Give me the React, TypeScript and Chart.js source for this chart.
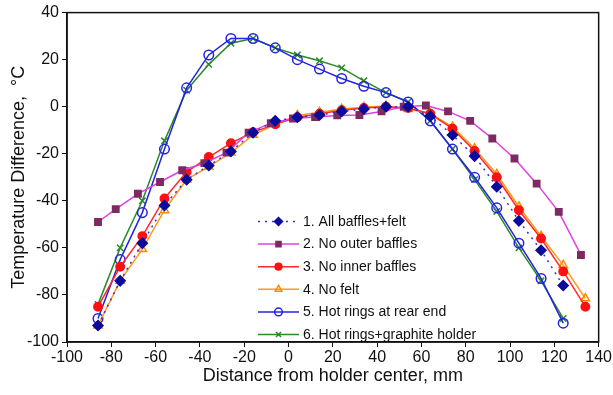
import React, { useEffect, useRef } from "react";
import { Chart, registerables } from "chart.js";
import { drawPoint } from "chart.js/helpers";

Chart.register(...registerables);

const xMain = [-86, -76, -66, -56, -46, -36, -26, -16, -6, 4, 14, 24, 34, 44, 54, 64, 74, 84, 94, 104, 114, 124, 134];
const xOuter = [-86, -78, -68, -58, -48, -38, -28, -18, -8, 2, 12, 22, 32, 42, 52, 62, 72, 82, 92, 102, 112, 122, 132];

const labels = [
  "1. All baffles+felt",
  "2. No outer baffles",
  "3. No inner baffles",
  "4. No felt",
  "5. Hot rings at rear end",
  "6. Hot rings+graphite holder",
];

const s1 = [-93, -74, -58, -42, -31, -25, -19, -11, -6, -4.5, -3.5, -2, -1, 0, 0, -4, -12, -21, -34, -48.5, -61, -76];
const s2 = [-49, -43.5, -37, -32, -27, -24, -19.5, -11, -7, -5, -4.4, -3.7, -3.5, -2, 0, 0.5, -2, -6, -13.5, -22, -32.7, -44.7, -63];
const s3 = [-85, -68, -55, -39, -27.7, -21.4, -15.5, -10.8, -7.5, -4.5, -3, -1.5, -0.5, 0, -0.5, -3, -9.3, -18.8, -30, -44, -56, -70, -85];
const s4 = [-93, -74, -60.5, -44, -31, -25.5, -19.5, -12, -7.5, -3.7, -2.3, -1, -0.2, 0.3, -1, -3, -8.6, -17.8, -28.7, -42.5, -55, -67.3, -81.5];
const s5 = [-90, -65, -45, -18, 8, 22, 29, 29, 25, 20, 16, 12, 8.7, 6, 2, -6, -18, -30, -43, -58, -73, -92];
const s6 = [-84, -60, -40, -14.5, 7, 18, 27, 29, 25, 22, 19.5, 16.5, 11, 6, 2, -6, -18, -31, -44.5, -60, -74, -90];

const pts = (xs: number[], ys: number[]) => ys.map((y, i) => ({ x: xs[i], y }));

const FONT = "'Liberation Sans', Arial, sans-serif";

const framePlugin = {
  id: "frame",
  afterDraw(chart: any) {
    const { ctx, chartArea: a } = chart;
    ctx.save();
    ctx.strokeStyle = "#111";
    ctx.lineWidth = 1.5;
    ctx.strokeRect(a.left, a.top, a.right - a.left, a.bottom - a.top);
    ctx.restore();
  },
};

const legendPlugin = {
  id: "innerLegend",
  afterDatasetsDraw(chart: any) {
    const { ctx } = chart;
    const x0 = 258, x1 = 299, tx = 303, y0 = 221.5, dy = 22.6;
    ctx.save();
    chart.data.datasets.forEach((ds: any, i: number) => {
      const y = y0 + i * dy;
      ctx.save();
      ctx.strokeStyle = ds.borderColor;
      ctx.lineWidth = ds.borderWidth;
      ctx.setLineDash(ds.borderDash || []);
      ctx.beginPath();
      ctx.moveTo(x0, y);
      ctx.lineTo(x1, y);
      ctx.stroke();
      ctx.restore();
      ctx.save();
      ctx.fillStyle = ds.pointBackgroundColor;
      ctx.strokeStyle = ds.pointBorderColor;
      ctx.lineWidth = ds.pointBorderWidth;
      drawPoint(ctx, { pointStyle: ds.pointStyle, radius: ds.pointRadius * 0.8, rotation: 0, borderWidth: ds.pointBorderWidth }, (x0 + x1) / 2, y);
      ctx.restore();
      ctx.fillStyle = "#111";
      ctx.font = `14px ${FONT}`;
      ctx.textBaseline = "middle";
      ctx.textAlign = "left";
      ctx.fillText(ds.label, tx, y + 0.5);
    });
    ctx.restore();
  },
};

export default function App() {
  const ref = useRef<HTMLCanvasElement>(null);
  useEffect(() => {
    if (!ref.current) return;
    const mk = (
      label: string,
      data: any[],
      line: string,
      mfill: string,
      mstroke: string,
      style: string,
      r: number,
      dash?: number[]
    ) => ({
      label,
      data,
      borderColor: line,
      borderWidth: 1.5,
      borderDash: dash || [],
      pointStyle: style,
      pointRadius: r,
      pointBackgroundColor: mfill,
      pointBorderColor: mstroke,
      pointBorderWidth: 1.5,
      fill: false,
      tension: 0,
    });
    const chart = new Chart(ref.current, {
      type: "line",
      data: {
        datasets: [
          mk(labels[0], pts(xMain, s1), "#3535d0", "#0b0b9c", "#0b0b9c", "rectRot", 5, [2, 5]),
          mk(labels[1], pts(xOuter, s2), "#e040e0", "#7e2a62", "#7e2a62", "rect", 4.5),
          mk(labels[2], pts(xMain, s3), "#ff2a2a", "#ff1010", "#ff1010", "circle", 4.2),
          mk(labels[3], pts(xMain, s4), "#ff9a1a", "rgba(255,255,255,0)", "#ff8a00", "triangle", 4.8),
          mk(labels[4], pts(xMain, s5), "#2424dc", "rgba(255,255,255,0)", "#2424dc", "circle", 4.8),
          mk(labels[5], pts(xMain, s6), "#2a8a2a", "#2a8a2a", "#2a8a2a", "crossRot", 4.5),
        ] as any,
      },
      options: {
        responsive: false,
        animation: false,
        layout: { padding: { left: 0, right: 14, top: 12, bottom: 0 } },
        plugins: {
          legend: { display: false },
          tooltip: { enabled: false },
        },
        scales: {
          x: {
            type: "linear",
            min: -100,
            max: 140,
            afterFit: (s: any) => {
              s.height = 53;
            },
            ticks: { stepSize: 20, color: "#111", font: { family: FONT, size: 16 }, padding: 1, maxRotation: 0 },
            grid: { display: true, drawOnChartArea: false, drawTicks: true, tickLength: 5, color: "#111", lineWidth: 1 },
            border: { display: true, color: "#111", width: 1.5 },
            title: {
              display: true,
              text: "Distance from holder center, mm",
              color: "#111",
              font: { family: FONT, size: 18 },
              padding: { top: 0, bottom: 8 },
            },
          },
          y: {
            type: "linear",
            min: -100,
            max: 40,
            afterFit: (s: any) => {
              s.width = 67;
            },
            ticks: { stepSize: 20, color: "#111", font: { family: FONT, size: 16 }, padding: 3 },
            grid: { display: true, drawOnChartArea: false, drawTicks: true, tickLength: 5, color: "#111", lineWidth: 1 },
            border: { display: true, color: "#111", width: 1.5 },
            title: {
              display: true,
              text: "Temperature Difference,  °C",
              color: "#111",
              font: { family: FONT, size: 18 },
              padding: { top: 8, bottom: 0 },
            },
          },
        },
      } as any,
      plugins: [framePlugin, legendPlugin],
    });
    return () => chart.destroy();
  }, []);
  return (
    <div style={{ position: "fixed", left: 0, top: 0, width: 613, height: 395, background: "#fff" }}>
      <canvas ref={ref} width={613} height={395} style={{ width: 613, height: 395, display: "block" }} />
    </div>
  );
}
